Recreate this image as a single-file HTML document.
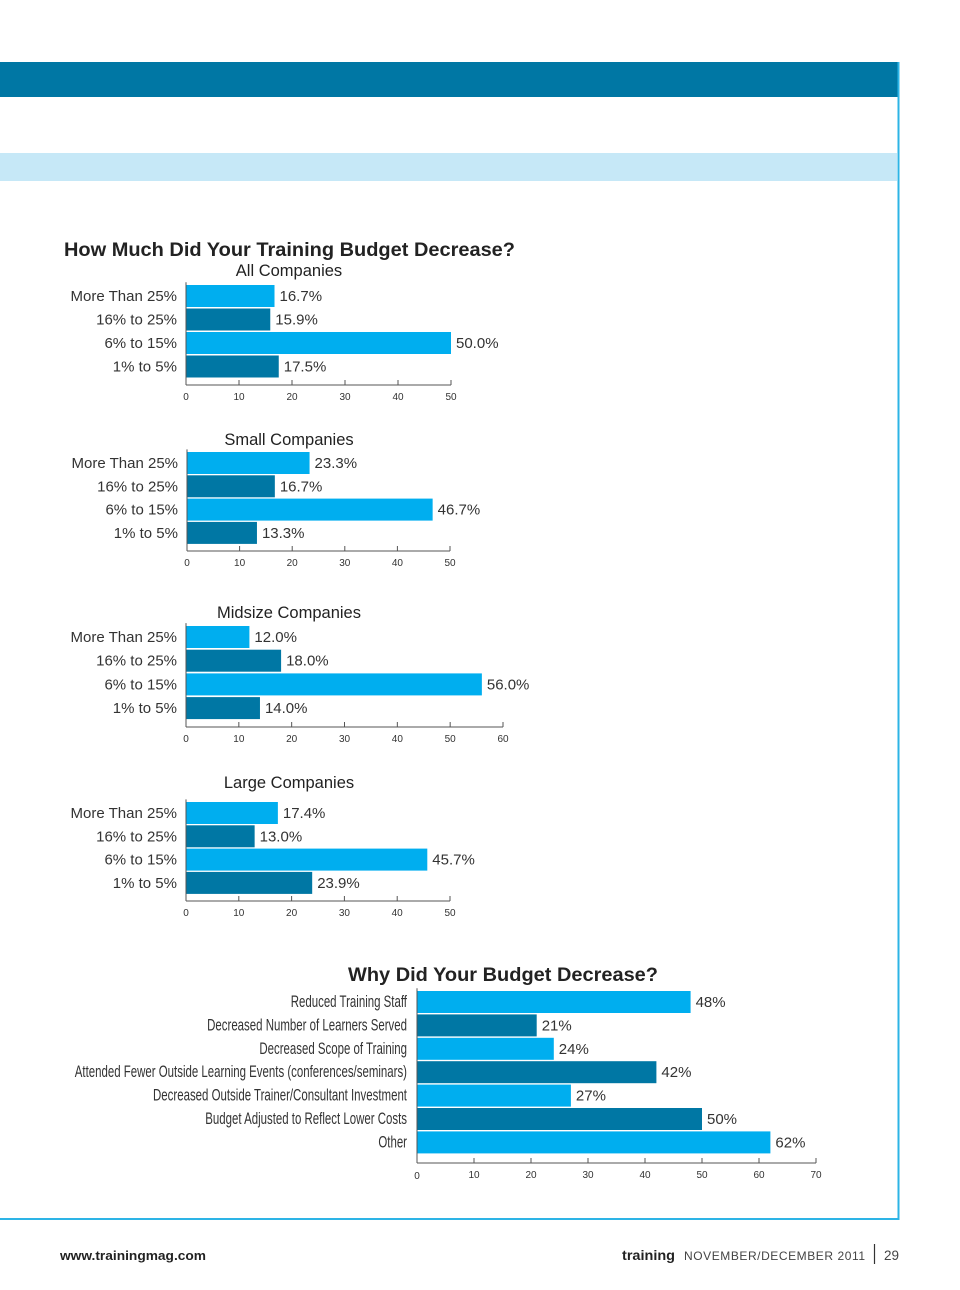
<!DOCTYPE html>
<html><head><meta charset="utf-8"><style>
html,body{margin:0;padding:0;background:#fff;}
svg{display:block;font-family:"Liberation Sans",sans-serif;}
</style></head><body>
<svg id="page" width="960" height="1290" viewBox="0 0 960 1290" xmlns="http://www.w3.org/2000/svg">
<rect x="0" y="62" width="899" height="35" fill="#0077a4"/>
<rect x="0" y="153" width="897" height="28" fill="#c6e8f7"/>
<line x1="898.5" y1="62" x2="898.5" y2="1220" stroke="#2db4e6" stroke-width="2"/>
<line x1="0" y1="1219" x2="899" y2="1219" stroke="#2db4e6" stroke-width="2"/>
<text x="64" y="256" font-size="19" font-weight="bold" fill="#222" textLength="451" lengthAdjust="spacingAndGlyphs">How Much Did Your Training Budget Decrease?</text>
<text x="348" y="981" font-size="19" font-weight="bold" fill="#222" textLength="310" lengthAdjust="spacingAndGlyphs">Why Did Your Budget Decrease?</text>
<text x="60" y="1260" font-size="13" font-weight="bold" fill="#222" textLength="146" lengthAdjust="spacingAndGlyphs">www.trainingmag.com</text>
<text x="622" y="1260" font-size="14" font-weight="bold" fill="#222" textLength="53" lengthAdjust="spacingAndGlyphs">training</text>
<text x="684" y="1260" font-size="12" fill="#444" textLength="181" lengthAdjust="spacing">NOVEMBER/DECEMBER 2011</text>
<line x1="874.5" y1="1244" x2="874.5" y2="1264" stroke="#333" stroke-width="1.2"/>
<text x="884" y="1260" font-size="13.5" fill="#444">29</text>
<g id="charts"></g>
</svg>
<script>
const NS="http://www.w3.org/2000/svg";
const sizeCats=["More Than 25%","16% to 25%","6% to 15%","1% to 5%"];
const allValues=[16.7,15.9,50.0,17.5];
const smallValues=[23.3,16.7,46.7,13.3];
const midValues=[12.0,18.0,56.0,14.0];
const largeValues=[17.4,13.0,45.7,23.9];
const ticks50=[0,10,20,30,40,50];
const ticks60=[0,10,20,30,40,50,60];
const reasonCats=["Reduced Training Staff","Decreased Number of Learners Served","Decreased Scope of Training","Attended Fewer Outside Learning Events (conferences/seminars)","Decreased Outside Trainer/Consultant Investment","Budget Adjusted to Reflect Lower Costs","Other"];
const reasonValues=[48,21,24,42,27,50,62];
const ticks70=[0,10,20,30,40,50,60,70];

const root=document.getElementById('charts');
function mk(tag,attrs,parent){const e=document.createElementNS(NS,tag);for(const k in attrs)e.setAttribute(k,attrs[k]);(parent||root).appendChild(e);return e;}

function chart(opt){
  const g=mk('g',{});
  
  
  const maxT=opt.ticks[opt.ticks.length-1];
  const xs=v=>opt.x0+(v/maxT)*(opt.x1-opt.x0);
  if(opt.title){
    const t=mk('text',{x:opt.titleX,y:opt.titleY,'font-size':16.5,fill:'#222','text-anchor':'middle'},g);
    t.textContent=opt.title;
    
    
  }
  opt.cats.forEach((c,i)=>{
    const cy=opt.y0+i*opt.pitch;
    const r=mk('rect',{x:opt.x0,y:cy-opt.bh/2,width:xs(opt.vals[i])-opt.x0,height:opt.bh,fill:i%2?'#0077a4':'#00aeef'},g);
    
    
    let lab;
    if(opt.narrow){
      lab=mk('text',{x:0,y:0,'font-size':16.5,fill:'#333','text-anchor':'end',transform:`translate(${opt.x0-10},${cy+5}) scale(0.695,1)`},g);
    }else{
      lab=mk('text',{x:opt.x0-9,y:cy+5,'font-size':15,fill:'#333','text-anchor':'end'},g);
    }
    lab.textContent=c;
    
    
    const vt=mk('text',{x:xs(opt.vals[i])+5,y:cy+5,'font-size':15,fill:'#333'},g);
    vt.textContent=opt.fmt(opt.vals[i]);
    
    
  });
  const top=opt.y0-opt.pitch/2-2;
  const ax=mk('line',{x1:opt.x0,y1:top,x2:opt.x0,y2:opt.axisY,stroke:'#555','stroke-width':1},g);
  
  
  const xa=mk('line',{x1:opt.x0,y1:opt.axisY,x2:xs(maxT),y2:opt.axisY,stroke:'#555','stroke-width':1},g);
  
  
  opt.ticks.forEach(t=>{
    const tk=mk('line',{x1:xs(t),y1:opt.axisY-5,x2:xs(t),y2:opt.axisY,stroke:'#555','stroke-width':1},g);
    
    
    const tl=mk('text',{x:xs(t),y:opt.axisY+(t===0&&opt.narrow?16:15),'font-size':10,fill:'#333','text-anchor':'middle'},g);
    tl.textContent=t;
    
    
  });
}
const pct1=v=>v.toFixed(1)+'%';
chart({name:'all-companies-chart',title:'All Companies',titleX:289,titleY:276,cats:sizeCats,vals:allValues,ticks:ticks50,x0:186,x1:451,y0:296,pitch:23.5,bh:22,axisY:385,fmt:pct1});
chart({name:'small-companies-chart',title:'Small Companies',titleX:289,titleY:445,cats:sizeCats,vals:smallValues,ticks:ticks50,x0:187,x1:450,y0:463,pitch:23.3,bh:22,axisY:551,fmt:pct1});
chart({name:'midsize-companies-chart',title:'Midsize Companies',titleX:289,titleY:618,cats:sizeCats,vals:midValues,ticks:ticks60,x0:186,x1:503,y0:637,pitch:23.7,bh:22,axisY:727,fmt:pct1});
chart({name:'large-companies-chart',title:'Large Companies',titleX:289,titleY:788,cats:sizeCats,vals:largeValues,ticks:ticks50,x0:186,x1:450,y0:813,pitch:23.3,bh:22,axisY:901,fmt:pct1});
chart({name:'reasons-chart',title:null,cats:reasonCats,vals:reasonValues,ticks:ticks70,x0:417,x1:816,y0:1002,pitch:23.4,bh:22,axisY:1163,fmt:v=>v+'%',narrow:true});
</script>
</body></html>
